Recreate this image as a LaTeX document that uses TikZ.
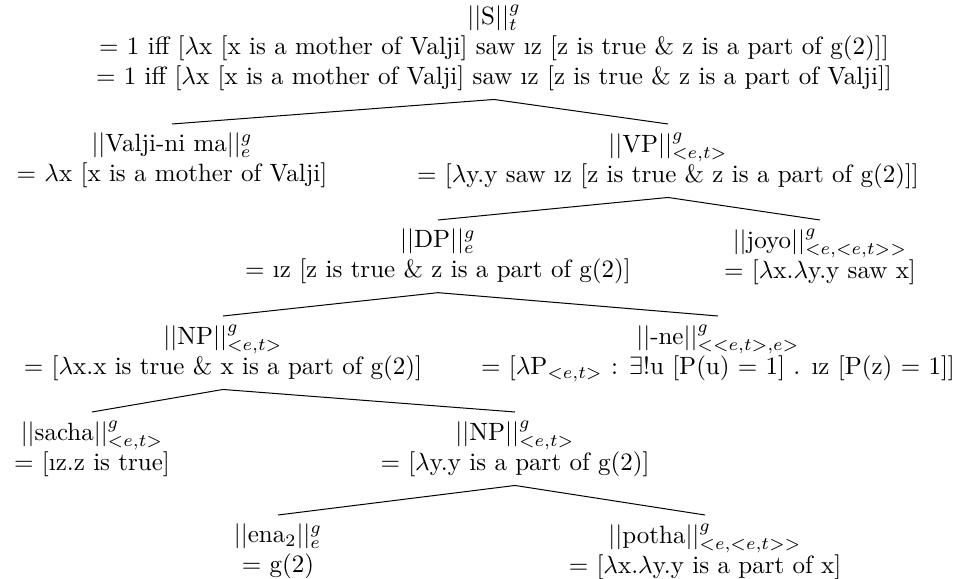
\documentclass[tikz,border=0pt]{standalone}
\begin{document}
\begin{tikzpicture}[x=0.40pt,y=-0.40pt,
  sem/.style={align=center,anchor=north}]
  \useasboundingbox (0,0) rectangle (967,579);
  % semantic values, top down
  \node[sem] (s) at (494,-4) {$||$S$||^g_t$\\
    = 1 iff [$\lambda$x [x is a mother of Valji] saw \i z [z is true \& z is a part of g(2)]]\\
    = 1 iff [$\lambda$x [x is a mother of Valji] saw \i z [z is true \& z is a part of Valji]]};
  \node[sem] (valji) at (172,124) {$||$Valji-ni ma$||^g_e$\\ = $\lambda$x [x is a mother of Valji]};
  \node[sem] (vp) at (668,124) {$||$VP$||^g_{<e,t>}$\\ = [$\lambda$y.y saw \i z [z is true \& z is a part of g(2)]]};
  \node[sem] (dp) at (438,220) {$||$DP$||^g_e$\\ = \i z [z is true \& z is a part of g(2)]};
  \node[sem] (joyo) at (820,220) {$||$joyo$||^g_{<e,<e,t>>}$\\ = [$\lambda$x.$\lambda$y.y saw x]};
  \node[sem] (np) at (223,316) {$||$NP$||^g_{<e,t>}$\\ = [$\lambda$x.x is true \& x is a part of g(2)]};
  \node[sem] (ne) at (718,316) {$||$-ne$||^g_{<<e,t>,e>}$\\ = [$\lambda$P$_{<e,t>}$ : $\exists$!u [P(u) = 1] . \i z [P(z) = 1]]};
  \node[sem] (sacha) at (92,412) {$||$sacha$||^g_{<e,t>}$\\ = [\i z.z is true]};
  \node[sem] (npb) at (515,412) {$||$NP$||^g_{<e,t>}$\\ = [$\lambda$y.y is a part of g(2)]};
  \node[sem] (ena) at (278,515) {$||$ena$_2||^g_e$\\ = g(2)};
  \node[sem] (potha) at (705,515) {$||$potha$||^g_{<e,<e,t>>}$\\ = [$\lambda$x.$\lambda$y.y is a part of x]};
  % branches
  \draw (s.south) -- (valji.north);
  \draw (s.south) -- (vp.north);
  \draw (vp.south) -- (dp.north);
  \draw (vp.south) -- (joyo.north);
  \draw (dp.south) -- (np.north);
  \draw (dp.south) -- (ne.north);
  \draw (np.south) -- (sacha.north);
  \draw (np.south) -- (npb.north);
  \draw (npb.south) -- (ena.north);
  \draw (npb.south) -- (potha.north);
\end{tikzpicture}
\end{document}
